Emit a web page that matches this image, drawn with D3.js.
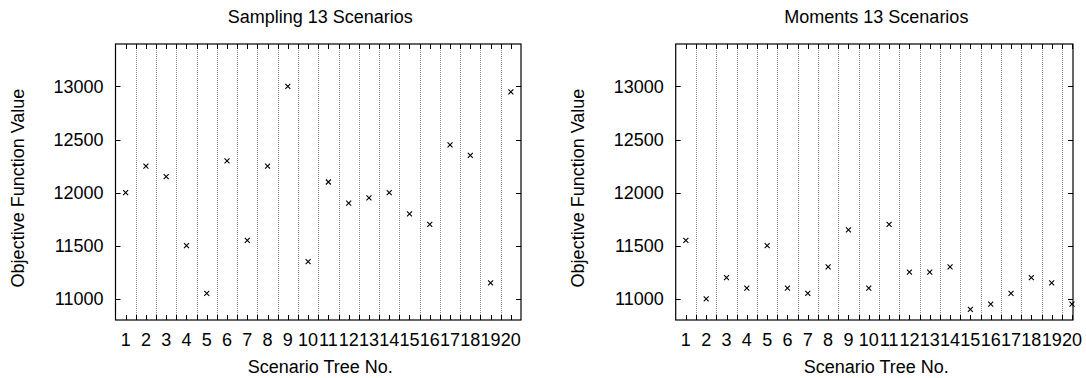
<!DOCTYPE html>
<html>
<head>
<meta charset="utf-8">
<script src="https://cdn.jsdelivr.net/npm/d3@7"></script>
<style>
  body { margin: 0; background: #fff; }
  svg text { font-family: "Liberation Sans", Arial, Helvetica, sans-serif; fill: #000; }
</style>
</head>
<body>
<div id="chart"></div>
<script>
// Data
var treeNo = d3.range(1, 21);
var samplingValues = [12000, 12250, 12150, 11500, 11050, 12300, 11550, 12250, 13000, 11350,
                      12100, 11900, 11950, 12000, 11800, 11700, 12450, 12350, 11150, 12950];
var momentsValues = [11550, 11000, 11200, 11100, 11500, 11100, 11050, 11300, 11650, 11100,
                     11700, 11250, 11250, 11300, 10900, 10950, 11050, 11200, 11150, 10950];
var yTickValues = [11000, 11500, 12000, 12500, 13000];
var titles = ["Sampling 13 Scenarios", "Moments 13 Scenarios"];
var xLabel = "Scenario Tree No.";
var yLabel = "Objective Function Value";

var width = 1086, height = 378;
var fontSize = 18;

var svg = d3.select("#chart")
  .append("svg")
  .attr("width", width)
  .attr("height", height);

// draw one gnuplot style panel
function drawPanel(opt) {
  var x = d3.scaleLinear().domain(opt.xDomain).range([opt.left, opt.right]);
  var y = d3.scaleLinear().domain([10800, 13400]).range([320, 44]);
  var g = svg.append("g");

  // dotted vertical grid between trees
  var gridVals = d3.range(1.5, 20, 1);
  g.selectAll(".grid")
    .data(gridVals)
    .enter()
    .append("line")
    .attr("x1", function(d) { return Math.round(x(d)) + 0.5; })
    .attr("x2", function(d) { return Math.round(x(d)) + 0.5; })
    .attr("y1", y.range()[1])
    .attr("y2", y.range()[0])
    .attr("stroke", "#8a8a8a")
    .attr("stroke-width", 1)
    .attr("stroke-dasharray", "1,1");

  // x ticks top and bottom, every half unit
  var xTickVals = d3.range(1, 20.01, 0.5);
  var tickLen = 5;
  [y.range()[0], y.range()[1]].forEach(function(yy, k) {
    var dir = k === 0 ? -1 : 1;
    g.selectAll(".xt" + k)
      .data(xTickVals)
      .enter()
      .append("line")
      .attr("x1", function(d) { return Math.round(x(d)) + 0.5; })
      .attr("x2", function(d) { return Math.round(x(d)) + 0.5; })
      .attr("y1", yy)
      .attr("y2", yy + dir * tickLen)
      .attr("stroke", "#000");
  });

  // y ticks left and right
  [opt.left, opt.right].forEach(function(xx, k) {
    var dir = k === 0 ? 1 : -1;
    g.selectAll(".yt" + k)
      .data(yTickValues)
      .enter()
      .append("line")
      .attr("x1", xx)
      .attr("x2", xx + dir * tickLen)
      .attr("y1", function(d) { return Math.round(y(d)) + 0.5; })
      .attr("y2", function(d) { return Math.round(y(d)) + 0.5; })
      .attr("stroke", "#000");
  });

  // frame
  g.append("rect")
    .attr("x", opt.left)
    .attr("y", y.range()[1])
    .attr("width", opt.right - opt.left)
    .attr("height", y.range()[0] - y.range()[1])
    .attr("fill", "none")
    .attr("stroke", "#000")
    .attr("stroke-width", 1.2);

  // tick labels
  g.selectAll(".xl")
    .data(treeNo)
    .enter()
    .append("text")
    .attr("x", function(d) { return x(d); })
    .attr("y", 346)
    .attr("text-anchor", "middle")
    .style("font-size", fontSize + "px")
    .text(function(d) { return d; });

  g.selectAll(".yl")
    .data(yTickValues)
    .enter()
    .append("text")
    .attr("x", opt.left - 12)
    .attr("y", function(d) { return y(d); })
    .attr("dy", "0.36em")
    .attr("text-anchor", "end")
    .style("font-size", fontSize + "px")
    .text(function(d) { return d; });

  // points
  g.selectAll(".pt")
    .data(opt.values)
    .enter()
    .append("path")
    .attr("transform", function(d, i) { return "translate(" + x(treeNo[i]) + "," + y(d) + ")"; })
    .attr("d", "M-2.5,-2.5L2.5,2.5M-2.5,2.5L2.5,-2.5")
    .attr("stroke", "#000")
    .attr("stroke-width", 1.1)
    .attr("fill", "none");

  var cx = (opt.left + opt.right) / 2 + 2;

  g.append("text")
    .attr("x", cx)
    .attr("y", 23)
    .attr("text-anchor", "middle")
    .style("font-size", fontSize + "px")
    .text(opt.title);

  g.append("text")
    .attr("x", cx)
    .attr("y", 373)
    .attr("text-anchor", "middle")
    .style("font-size", fontSize + "px")
    .text(xLabel);

  g.append("text")
    .attr("transform", "translate(" + (opt.left - 92) + "," + 188 + ") rotate(-90)")
    .attr("text-anchor", "middle")
    .style("font-size", fontSize + "px")
    .text(yLabel);
}

drawPanel({ left: 115.5, right: 521, xDomain: [0.5, 20.5], values: samplingValues, title: titles[0] });
drawPanel({ left: 675.7, right: 1073, xDomain: [0.5, 20.05], values: momentsValues, title: titles[1] });
</script>
</body>
</html>
